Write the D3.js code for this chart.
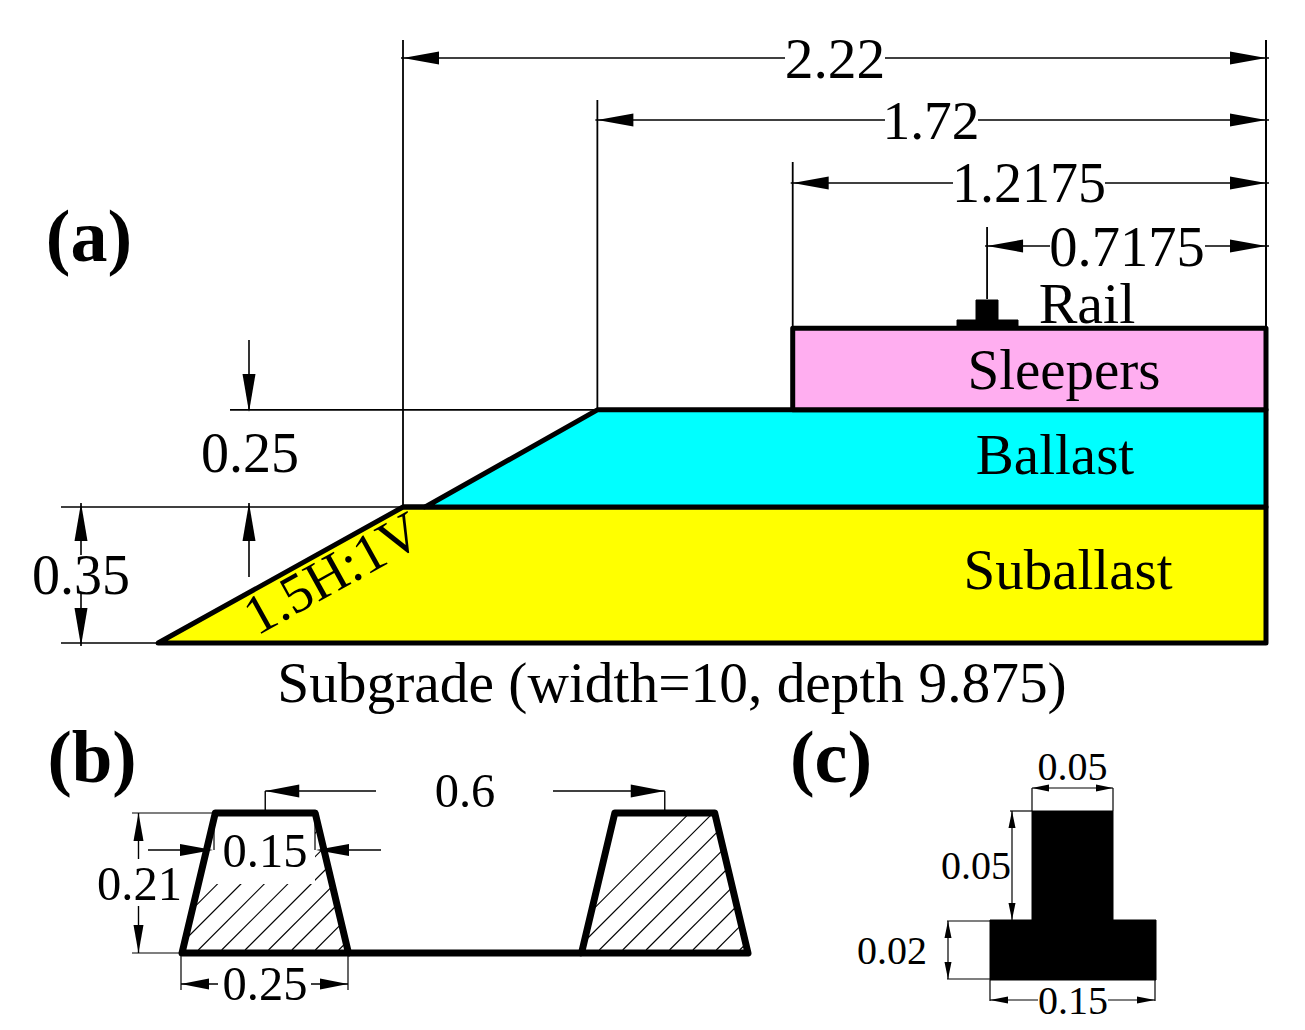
<!DOCTYPE html>
<html><head><meta charset="utf-8">
<script src="https://cdn.jsdelivr.net/npm/d3@7"></script>
<style>html,body{margin:0;padding:0;background:#fff}svg{display:block}text{font-family:"Liberation Serif",serif;fill:#000}</style>
</head><body><svg id="c" width="1305" height="1030"></svg>
<script>
// ---- data (metres, measured from the track centreline / formation base) ----
const layerNames = ["Suballast", "Ballast", "Sleepers"];
const layerColors = ["#ffff00", "#00ffff", "#ffaef0"];
const layerBase = [0, 0.35, 0.6];
const layerTop = [0.35, 0.6, 0.81];
const layerBaseHalfWidth = [2.85, 2.163, 1.2175];
const layerTopHalfWidth = [2.22, 1.72, 1.2175];
const widthValues = [2.22, 1.72, 1.2175, 0.7175];
const widthLabels = ["2.22", "1.72", "1.2175", "0.7175"];
const depthLabels = ["0.25", "0.35"];
const sleeperLabels = ["0.6", "0.15", "0.21", "0.25"];
const sleeperBottomWidth = 0.25, sleeperTopWidth = 0.15, sleeperHeight = 0.21, sleeperSpacing = 0.6;
const railXStops = [0, 0.05, 0.10, 0.15];
const railYStops = [0, 0.02, 0.07];
const railLabels = ["0.05", "0.05", "0.02", "0.15"];

// ---- scales ----
const x = d3.scaleLinear().domain([0, 2.22]).range([1266, 403]);
const y = d3.scaleLinear().domain([0, 0.35]).range([643, 507]);
const sx = d3.scaleLinear().domain([0, 0.85]).range([182, 748]);
const sy = d3.scaleLinear().domain([0, 0.21]).range([953, 813]);
const rx = d3.scaleLinear().domain(railXStops).range([990, 1032, 1113, 1156]);
const ry = d3.scaleLinear().domain(railYStops).range([980, 920, 811]);

const svg = d3.select("#c");
const label = (t, px, py, size, opt = {}) => svg.append("text").attr("x", px).attr("y", py)
  .attr("text-anchor", opt.anchor || "middle").attr("font-size", size)
  .attr("font-weight", opt.bold ? "bold" : null)
  .attr("transform", opt.rotate ? `rotate(${opt.rotate} ${px} ${py})` : null).text(t);
const seg = (x1, y1, x2, y2, w = 1.6, col = "#000") => svg.append("line")
  .attr("x1", x1).attr("y1", y1).attr("x2", x2).attr("y2", y2).attr("stroke", col).attr("stroke-width", w);
const line = d3.line();
const arrow = (tx, ty, dx, dy, len = 36, hw = 6.5) => svg.append("path")
  .attr("d", line([[tx, ty], [tx + dx * len - dy * hw, ty + dy * len + dx * hw], [tx + dx * len + dy * hw, ty + dy * len - dx * hw]]) + "Z")
  .attr("fill", "#000");

// ---- panel (a): layers ----
[0, 1, 2].forEach(i => {
  const poly = [[x(layerBaseHalfWidth[i]), y(layerBase[i])], [x(layerTopHalfWidth[i]), y(layerTop[i])], [x(0), y(layerTop[i])], [x(0), y(layerBase[i])]];
  svg.append("path").attr("d", line(poly) + "Z").attr("fill", layerColors[i]).attr("stroke", "#000")
    .attr("stroke-width", 5).attr("stroke-linejoin", "round");
});
seg(x(2.22), y(0.35), x(layerBaseHalfWidth[1]), y(0.35), 5);

// panel (a): rail marker on the sleepers
const railMarkA = d3.scaleLinear().domain([0, 0.15]).range([957, 1018]);
svg.append("path").attr("fill", "#000").attr("stroke", "#000").attr("stroke-width", 1).attr("stroke-linejoin", "round")
  .attr("d", line([[railMarkA(0), 327], [railMarkA(0), 320], [976, 320], [976, 300], [998, 300], [998, 320], [railMarkA(0.15), 320], [railMarkA(0.15), 327]]) + "Z");

// width dimensions
const dimY = [58, 120, 183, 246];
const extTop = [40, 100, 162, 227];
const extBot = [y(0.35), y(0.6), y(0.81), 299];
const gaps = [[785, 885], [885, 978], [953, 1105], [1050, 1205]];
const textX = [835, 931, 1029, 1127];
const textY = [78, 139, 202, 266];
const textSize = [57.5, 55.5, 56, 56.5];
seg(x(0), 40, x(0), 328, 2);
widthValues.forEach((v, i) => {
  seg(x(v), extTop[i], x(v), extBot[i], 1.8);
  seg(x(v) - 2, dimY[i], gaps[i][0], dimY[i], 1.6);
  seg(gaps[i][1], dimY[i], x(0) + 3, dimY[i], 1.6);
  arrow(x(v), dimY[i], 1, 0);
  arrow(x(0), dimY[i], -1, 0);
  label(widthLabels[i], textX[i], textY[i], textSize[i]);
});

// layer labels
label("Rail", 1087, 323, 58);
label(layerNames[2], 1064, 389, 57);
label(layerNames[1], 1055, 474, 57);
label(layerNames[0], 1068, 589, 57);
label("Subgrade (width=10, depth 9.875)", 672, 702, 57.4);
label("1.5H:1V", 257, 636, 55.5, {anchor: "start", rotate: -29});
label("(a)", 89, 261, 74, {bold: true});

// depth dimensions
seg(230, y(0.6), x(1.72), y(0.6), 1.6);
seg(61, y(0.35), x(2.22), y(0.35), 1.6);
seg(61, y(0), 158, y(0), 1.6);
seg(249, 340, 249, 410, 1.6); arrow(249, 412, 0, -1, 38, 6.5);
seg(249, 503, 249, 577, 1.6); arrow(249, 503, 0, 1, 38, 6.5);
seg(81, 503, 81, 555, 1.6); arrow(81, 503, 0, 1, 38, 6.5);
seg(81, 593, 81, 646, 1.6); arrow(81, 646, 0, -1, 38, 6.5);
label(depthLabels[0], 250, 472, 56);
label(depthLabels[1], 81, 594, 56);

// ---- panel (b): sleepers ----
label("(b)", 92, 782, 73, {bold: true});
const defs = svg.append("defs");
const trap = o => {
  const inset = (sleeperBottomWidth - sleeperTopWidth) / 2;
  return [[sx(o), sy(0)], [sx(o + inset), sy(sleeperHeight)], [sx(o + inset + sleeperTopWidth), sy(sleeperHeight)], [sx(o + sleeperBottomWidth), sy(0)]];
};
const offsets = [0, sleeperSpacing];
offsets.forEach((o, i) => {
  defs.append("clipPath").attr("id", "t" + i).append("path").attr("d", line(trap(o)) + "Z");
  const g = svg.append("g").attr("clip-path", `url(#t${i})`);
  const start = i === 0 ? 198.3 - 23.4 * 2 : 599.3 - 23.4 * 2;
  d3.range(0, 16).forEach(k => {
    const bx = start + k * 23.4;
    g.append("line").attr("x1", bx).attr("y1", 950).attr("x2", bx + 150).attr("y2", 800).attr("stroke", "#000").attr("stroke-width", 1.1);
  });
  if (i === 0) g.append("rect").attr("x", 216).attr("y", 805).attr("width", 99).attr("height", 79).attr("fill", "#fff");
  svg.append("path").attr("d", line(trap(o)) + "Z").attr("fill", "none").attr("stroke", "#000")
    .attr("stroke-width", 7).attr("stroke-linejoin", "round").attr("stroke-linecap", "round");
});
seg(sx(0.25), sy(0), sx(offsets[1]), sy(0), 7);

// 0.6
const c1 = sx(0.125), c2 = sx(offsets[1] + 0.125);
seg(c1, 791, c1, sy(0.21), 1.4); seg(c2, 791, c2, sy(0.21), 1.4);
seg(c1, 791, 376, 791, 1.4); seg(553, 791, c2, 791, 1.4);
arrow(c1, 791, 1, 0, 34, 6.5); arrow(c2, 791, -1, 0, 34, 6.5);
label(sleeperLabels[0], 465, 807, 48.5);
// 0.15
seg(214, 813, 214, 850, 1.2); seg(315, 813, 315, 850, 1.2);
seg(148, 850, 181, 850, 1.4); seg(348, 850, 381, 850, 1.4);
arrow(213, 850, -1, 0, 33, 6); arrow(316, 850, 1, 0, 33, 6);
label(sleeperLabels[1], 265, 867, 48.5);
// 0.21
seg(132, sy(0.21), 215, sy(0.21), 1.2); seg(132, sy(0), 182, sy(0), 1.2);
seg(138.5, 813, 138.5, 859, 1.4); seg(138.5, 906, 138.5, 953, 1.4);
arrow(138.5, 813, 0, 1, 28, 5); arrow(138.5, 953, 0, -1, 28, 5);
label(sleeperLabels[2], 139.5, 900, 48.5);
// 0.25
seg(181, 953, 181, 990, 1.2); seg(348, 953, 348, 990, 1.2);
seg(181, 984, 218, 984, 1.4); seg(311, 984, 348, 984, 1.4);
arrow(181, 984, 1, 0, 28, 5.5); arrow(348, 984, -1, 0, 28, 5.5);
label(sleeperLabels[3], 265, 1000, 48.5);

// ---- panel (c): rail section ----
label("(c)", 831, 782, 74, {bold: true});
svg.append("path").attr("fill", "#000").attr("stroke", "#000").attr("stroke-width", 1).attr("d", line([
  [rx(0), ry(0)], [rx(0), ry(0.02)], [rx(0.05), ry(0.02)], [rx(0.05), ry(0.07)],
  [rx(0.10), ry(0.07)], [rx(0.10), ry(0.02)], [rx(0.15), ry(0.02)], [rx(0.15), ry(0)]]) + "Z");
const thin = (a, b, c, d) => seg(a, b, c, d, 1.2);
// 0.05 top
thin(rx(0.05), 788, rx(0.05), 811); thin(rx(0.10), 788, rx(0.10), 811); thin(rx(0.05), 788, rx(0.10), 788);
arrow(rx(0.05), 788, 1, 0, 17, 3.5); arrow(rx(0.10), 788, -1, 0, 17, 3.5);
label(railLabels[0], 1072.5, 780, 40);
// 0.05 left
thin(1010, ry(0.07), rx(0.05), ry(0.07)); thin(1012, ry(0.07), 1012, ry(0.02));
arrow(1012, ry(0.07), 0, 1, 17, 3.5); arrow(1012, ry(0.02), 0, -1, 17, 3.5);
label(railLabels[1], 976, 879, 40);
// 0.02
thin(947, ry(0.02) + 1, rx(0), ry(0.02) + 1); thin(947, ry(0) - 1, rx(0), ry(0) - 1); thin(948, ry(0.02) + 1, 948, ry(0) - 1);
arrow(948, ry(0.02) + 1, 0, 1, 17, 3.5); arrow(948, ry(0) - 1, 0, -1, 17, 3.5);
label(railLabels[2], 892, 964, 40);
// 0.15
thin(rx(0), 980, rx(0), 1001); thin(rx(0.15) - 1, 980, rx(0.15) - 1, 1001);
thin(rx(0), 1000, 1038, 1000); thin(1108, 1000, rx(0.15) - 1, 1000);
arrow(rx(0), 1000, 1, 0, 18, 3.5); arrow(rx(0.15) - 1, 1000, -1, 0, 18, 3.5);
label(railLabels[3], 1073, 1014, 40);
</script></body></html>
